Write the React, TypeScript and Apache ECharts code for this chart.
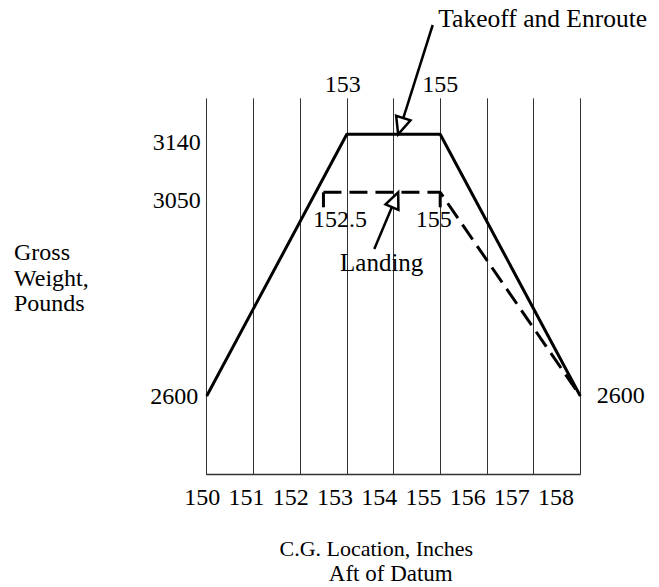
import React, { useEffect, useRef } from 'react';
import * as echarts from 'echarts';

// ---- data ----
const cgTicks = [150, 151, 152, 153, 154, 155, 156, 157, 158];
const takeoffCG = [150, 153, 155, 158];
const takeoffWeight = [2600, 3140, 3140, 2600];
const takeoffPointLabels = ['2600', '153', '155', '2600'];
const landingCG = [152.5, 155, 158];
const landingWeight = [3050, 3050, 2600];
const landingPointLabels = ['152.5', '155'];
const takeoffWeightTicks = [3140];
const landingWeightTicks = [3050];
const arrowCG = 154.1;

const FONT = 'Liberation Serif';
const FS = 24;
const textBase = { fontFamily: FONT, fontSize: FS, color: '#000' };

function arrow(start: number[], tip: number[], headLen: number, headHalf: number, w: number) {
  const dx = tip[0] - start[0];
  const dy = tip[1] - start[1];
  const L = Math.hypot(dx, dy);
  const ux = dx / L, uy = dy / L;
  const bx = tip[0] - ux * headLen, by = tip[1] - uy * headLen;
  const px = -uy, py = ux;
  return [
    { type: 'line', z: 50, shape: { x1: start[0], y1: start[1], x2: bx, y2: by }, style: { stroke: '#000', lineWidth: w } },
    {
      type: 'polygon', z: 51,
      shape: { points: [[tip[0], tip[1]], [bx + px * headHalf, by + py * headHalf], [bx - px * headHalf, by - py * headHalf]] },
      style: { fill: '#fff', stroke: '#000', lineWidth: w, lineJoin: 'miter' },
    },
  ];
}

function txt(text: string, x: number, y: number, align: string, extra: any = {}) {
  return {
    type: 'text', z: 60, x, y,
    style: {
      text, fill: '#000', fontFamily: FONT, fontSize: FS,
      align, textAlign: align, verticalAlign: 'middle', textVerticalAlign: 'middle', ...extra,
    },
  };
}

export default function App() {
  const ref = useRef<HTMLDivElement>(null);
  useEffect(() => {
    document.body.style.margin = '0';
    const chart = echarts.init(ref.current!, null, { renderer: 'svg' });
    const takeoffItemLabels: any[] = [
      { show: true, position: 'left', distance: 8, formatter: takeoffPointLabels[0] },
      { show: true, position: 'inside', offset: [-4, -50], formatter: takeoffPointLabels[1] },
      { show: true, position: 'inside', offset: [0, -50], formatter: takeoffPointLabels[2] },
      { show: true, position: 'right', distance: 16, offset: [0, -1], formatter: takeoffPointLabels[3] },
    ];
    const landingOffsets = [[16.5, 26.7], [-6.5, 26.7]];
    const yLabel = {
      show: true, margin: 6, ...textBase, verticalAlign: 'top', lineHeight: 16,
      formatter: (v: number) => String(v),
    };
    const option: any = {
      animation: false,
      backgroundColor: '#fff',
      grid: [
        { left: 206.7, right: 78.7, top: 98.3, bottom: 113 },
        { left: 202.2, right: 102.9, top: 98.3, bottom: 113 },
      ],
      xAxis: [
        {
          type: 'value', gridIndex: 0, min: 150, max: 158, interval: 1,
          axisLine: { show: true, onZero: false, lineStyle: { color: '#333', width: 1.3 } },
          axisTick: { show: false }, axisLabel: { show: false },
          splitLine: { show: true, lineStyle: { color: '#333', width: 1 } },
        },
        {
          type: 'value', gridIndex: 1, min: cgTicks[0], max: cgTicks[cgTicks.length - 1], interval: 1,
          axisLine: { show: false }, axisTick: { show: false }, splitLine: { show: false },
          axisLabel: { show: true, margin: 11, ...textBase, customValues: cgTicks, formatter: (v: number) => String(v) },
        },
      ],
      yAxis: [
        {
          type: 'value', gridIndex: 0, position: 'left', min: 2439.05, max: 3214.3,
          axisLine: { show: false }, axisTick: { show: false }, splitLine: { show: false },
          axisLabel: { ...yLabel, customValues: takeoffWeightTicks },
        },
        {
          type: 'value', gridIndex: 0, position: 'left', offset: 0, min: 2427.7, max: 3257.7,
          axisLine: { show: false }, axisTick: { show: false }, splitLine: { show: false },
          axisLabel: { ...yLabel, customValues: landingWeightTicks },
        },
        { type: 'value', gridIndex: 1, min: 0, max: 1, show: false },
      ],
      series: [
        {
          type: 'line', name: 'Takeoff and Enroute', xAxisIndex: 0, yAxisIndex: 0,
          data: takeoffCG.map((x, i) => ({ value: [x, takeoffWeight[i]], label: { ...textBase, ...takeoffItemLabels[i] } })),
          symbol: 'circle', symbolSize: 1, showSymbol: true,
          itemStyle: { color: '#000', borderWidth: 0 },
          lineStyle: { color: '#000', width: 3 },
          z: 5,
        },
        {
          type: 'line', name: 'Landing', xAxisIndex: 0, yAxisIndex: 1,
          data: landingCG.map((x, i) => ({
            value: [x, landingWeight[i]],
            symbol: i < 2 ? 'rect' : 'none', symbolSize: [3, 15], symbolOffset: [0, 7.5],
          })),
          showSymbol: true,
          itemStyle: { color: '#000', borderWidth: 0 },
          lineStyle: { color: '#000', width: 3, type: [18, 8] },
          z: 4,
          markPoint: {
            symbol: 'circle', symbolSize: 1,
            itemStyle: { color: 'rgba(0,0,0,0)' },
            label: { show: true, position: 'inside', ...textBase },
            data: landingPointLabels.map((t, i) => ({
              coord: [landingCG[i], landingWeight[i]], value: t,
              label: { show: true, position: 'inside', ...textBase, formatter: t, offset: landingOffsets[i] },
            })),
          },
        },
      ],
    };
    chart.setOption(option);
    const tipTakeoff = chart.convertToPixel({ xAxisIndex: 0, yAxisIndex: 0 } as any, [arrowCG, takeoffWeight[1]]) as number[];
    const tipLanding = chart.convertToPixel({ xAxisIndex: 0, yAxisIndex: 1 } as any, [arrowCG, landingWeight[0]]) as number[];
    chart.setOption({
      graphic: [
        ...arrow([432.7, 25], tipTakeoff, 17, 7.5, 2.5),
        ...arrow([374.3, 249], tipLanding, 16, 7, 2.5),
        txt('Takeoff and Enroute', 438.3, 18.9, 'left', { fontSize: 25.5 }),
        txt('Landing', 381.7, 262.2, 'center', { fontSize: 25 }),
        txt('Gross\nWeight,\nPounds', 14, 277.5, 'left', { lineHeight: 25.5 }),
        txt('C.G. Location, Inches', 376.3, 548.5, 'center', { fontSize: 22 }),
        txt('Aft of Datum', 390.8, 573.5, 'center', { fontSize: 23 }),
      ],
    });
    return () => chart.dispose();
  }, []);
  return <div ref={ref} style={{ width: 659, height: 587 }} />;
}
